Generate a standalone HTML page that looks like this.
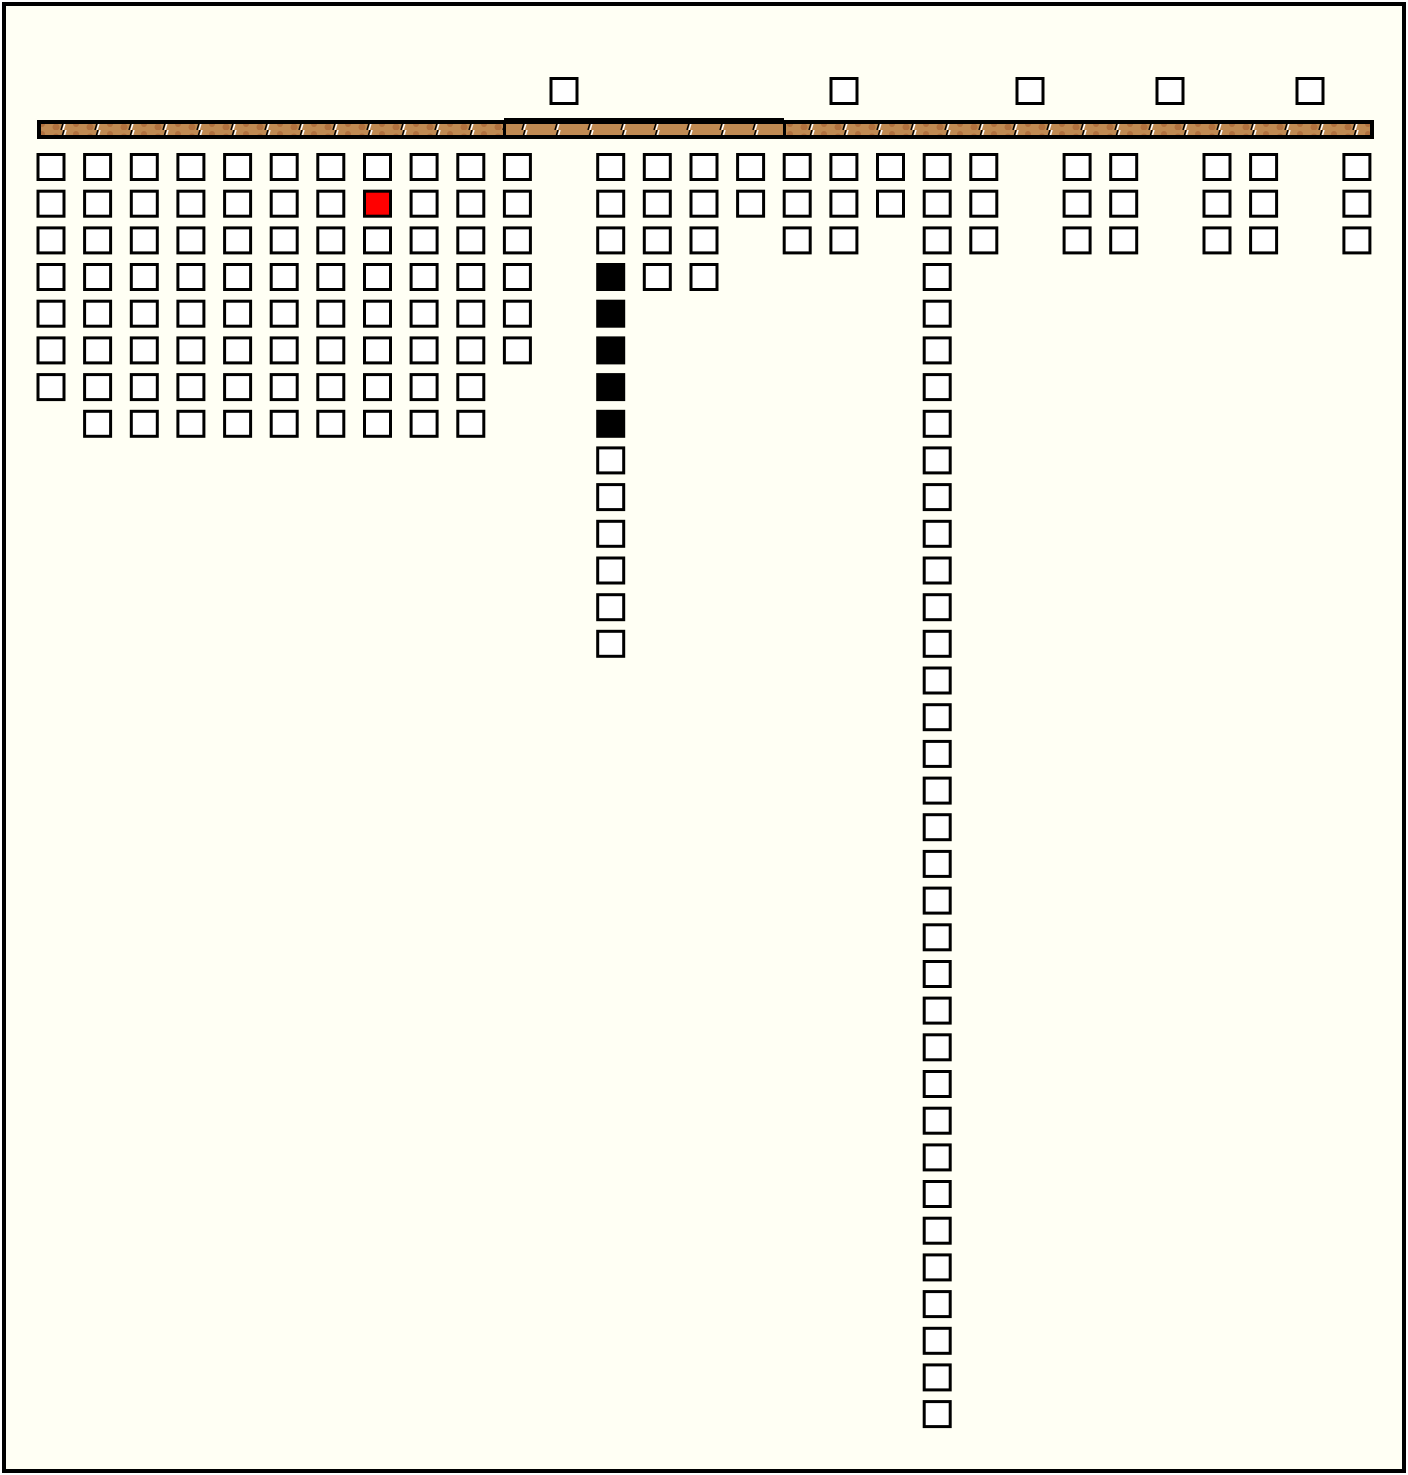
<!DOCTYPE html>
<html><head><meta charset="utf-8"><style>
html,body{margin:0;padding:0;background:#fff;}
svg{display:block;}
</style></head><body>
<svg id="s" width="1408" height="1475" xmlns="http://www.w3.org/2000/svg">
<rect x="0" y="0" width="1408" height="1475" fill="#ffffff"/>
<rect x="4" y="4" width="1400" height="1467" fill="#fffff4" stroke="#000" stroke-width="4"/>
<defs>
<pattern id="tex" x="0" y="0" width="34" height="10" patternUnits="userSpaceOnUse">
<rect width="34" height="10" fill="#c08a52"/>
<circle cx="8" cy="4" r="3" fill="#b0703e"/>
<circle cx="22" cy="7" r="3.5" fill="#b0703e"/>
<path d="M29 10 L32 0" stroke="#fff" stroke-width="1.5"/>
<path d="M27 10 L30 0" stroke="#000" stroke-width="1.5"/>
</pattern>
<pattern id="tex2" x="0" y="0" width="33" height="10" patternUnits="userSpaceOnUse">
<rect width="33" height="10" fill="#c08a52"/>
<path d="M29 10 L32 0" stroke="#fff" stroke-width="1.5"/>
<path d="M27 10 L30 0" stroke="#000" stroke-width="1.5"/>
</pattern>
</defs>
<rect x="39" y="122" width="1333" height="15" fill="url(#tex)" stroke="#000" stroke-width="4"/>
<rect x="504" y="118" width="280" height="4" fill="#000"/>
<rect x="504" y="124" width="280" height="11" fill="url(#tex2)"/>
<rect x="503" y="120" width="3" height="17" fill="#000"/>
<rect x="783" y="120" width="3" height="17" fill="#000"/>
<g id="g"></g>
</svg>
<script>
var g=document.getElementById('g'),h='';
function sq(cx,cy,f){h+='<rect x="'+(cx-13).toFixed(1)+'" y="'+(cy-12.5).toFixed(1)+'" width="26" height="25" fill="'+f+'" stroke="#000" stroke-width="3"/>';}
var counts={0:7,1:8,2:8,3:8,4:8,5:8,6:8,7:8,8:8,9:8,10:6,12:14,13:4,14:4,15:2,16:3,17:3,18:2,19:35,20:3,22:3,23:3,25:3,26:3,28:3};
for(var k in counts){var n=counts[k];var cx=51+46.64*k;
 for(var r=0;r<n;r++){var cy=167+36.68*r;var f='#fff';
  if(k==7&&r==1)f='#f00';
  if(k==12&&r>=3&&r<=7)f='#000';
  if(k>=1&&k<=9&&false){}
  sq(cx,cy,f);}
}
// column 0 starts at row 0 and has 7; columns 1-9 have 8 rows
[564,844,1030,1170,1310].forEach(function(x){sq(x,91,'#fff');});
g.innerHTML=h;
</script>
</body></html>
